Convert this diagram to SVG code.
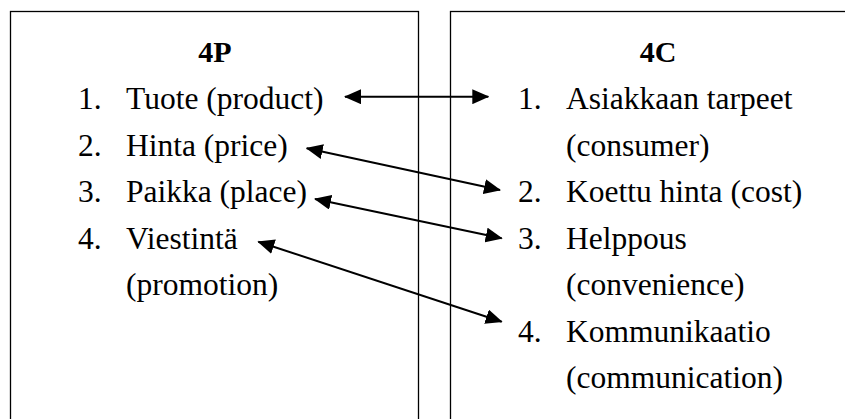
<svg xmlns="http://www.w3.org/2000/svg" width="845" height="419" viewBox="0 0 845 419">
<style>
.box{fill:#fff;stroke:#000;stroke-width:1.3}
text{font-family:'Liberation Serif','Times New Roman',Times,'DejaVu Serif',serif;fill:#000}
.t{font-size:31.5px}
.h{font-size:30px;font-weight:bold;text-anchor:middle}
.c{stroke:#000;stroke-width:2;fill:none;marker-start:url(#ah);marker-end:url(#ah)}
</style>
<defs>
<marker id="ah" markerUnits="userSpaceOnUse" markerWidth="17" markerHeight="15" refX="16" refY="7.5" orient="auto-start-reverse" viewBox="0 0 17 15">
<path d="M0,0 L17,7.5 L0,15 z" fill="#000"/>
</marker>
</defs>
<rect width="845" height="419" fill="#fff"/>
<g id="box4P">
<rect class="box" x="10.5" y="11.5" width="408" height="430"/>
<text class="h" x="215" y="62">4P</text>
<text class="t" x="78" y="109">1.</text><text class="t" x="126" y="109">Tuote (product)</text>
<text class="t" x="78" y="155.5">2.</text><text class="t" x="126" y="155.5">Hinta (price)</text>
<text class="t" x="78" y="202">3.</text><text class="t" x="126" y="202">Paikka (place)</text>
<text class="t" x="78" y="248.5">4.</text><text class="t" x="126" y="248.5">Viestintä</text>
<text class="t" x="126" y="295">(promotion)</text>
</g>
<g id="box4C">
<rect class="box" x="450.5" y="11.5" width="420" height="430"/>
<text class="h" x="658" y="62">4C</text>
<text class="t" x="518" y="109">1.</text><text class="t" x="566" y="109">Asiakkaan tarpeet</text>
<text class="t" x="566" y="155.5">(consumer)</text>
<text class="t" x="518" y="202">2.</text><text class="t" x="566" y="202">Koettu hinta (cost)</text>
<text class="t" x="518" y="248.5">3.</text><text class="t" x="566" y="248.5">Helppous</text>
<text class="t" x="566" y="295">(convenience)</text>
<text class="t" x="518" y="341.5">4.</text><text class="t" x="566" y="341.5">Kommunikaatio</text>
<text class="t" x="566" y="388">(communication)</text>
</g>
<g id="connectors">
<line class="c" x1="345" y1="96.7" x2="488.3" y2="96.7"/>
<line class="c" x1="306.7" y1="148.3" x2="500" y2="190"/>
<line class="c" x1="315" y1="199" x2="501.7" y2="238.3"/>
<line class="c" x1="258.3" y1="241.7" x2="501.7" y2="321.7"/>
</g>
</svg>
